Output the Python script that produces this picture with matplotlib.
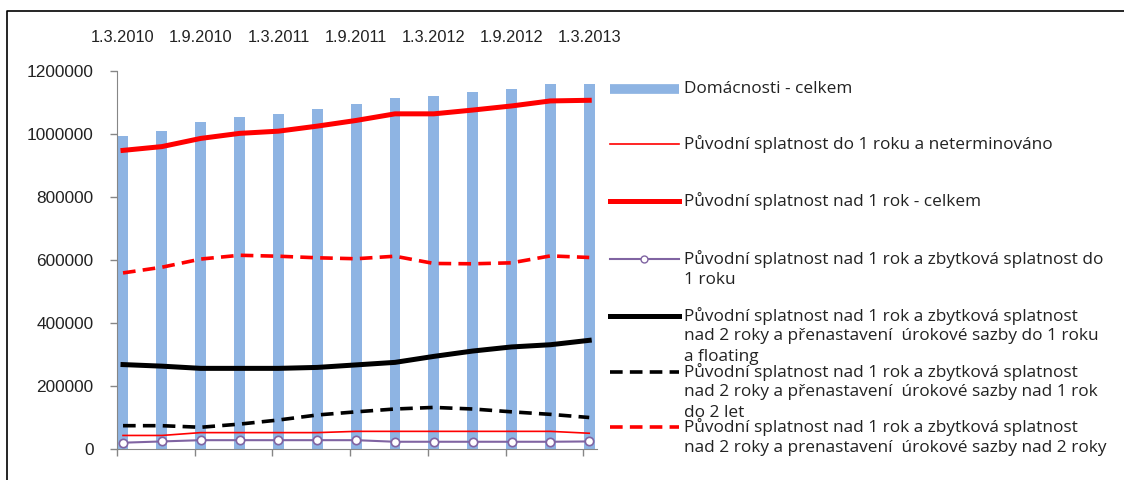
import matplotlib
matplotlib.use('Agg')
import matplotlib.pyplot as plt
from matplotlib.lines import Line2D
import numpy as np

plt.rcParams['font.family'] = ['Liberation Sans', 'DejaVu Sans']

# quarterly observations 1.3.2010 .. 1.3.2013
dates = ['1.3.2010', '1.6.2010', '1.9.2010', '1.12.2010', '1.3.2011', '1.6.2011', '1.9.2011',
         '1.12.2011', '1.3.2012', '1.6.2012', '1.9.2012', '1.12.2012', '1.3.2013']
top_labels = ['1.3.2010', '1.9.2010', '1.3.2011', '1.9.2011', '1.3.2012', '1.9.2012', '1.3.2013']

domacnosti = [993000, 1008000, 1038000, 1054000, 1062000, 1078000, 1095000,
              1115000, 1120000, 1132000, 1144000, 1160000, 1160000]
do_1_roku = [43000, 43000, 52000, 52000, 52000, 52000, 56000,
             56000, 56000, 56000, 56000, 56000, 50000]
nad_1_celkem = [948000, 960000, 986000, 1002000, 1009000, 1025000, 1043000,
                1064000, 1064000, 1076000, 1089000, 1105000, 1107000]
zbyt_do_1 = [20000, 24000, 28000, 28000, 28000, 28000, 28000,
             23000, 23000, 23000, 23000, 23000, 24000]
fix_do_1 = [268000, 263000, 256000, 256000, 256000, 259000, 267000,
            275000, 294000, 311000, 324000, 331000, 345000]
fix_1_2 = [74000, 74000, 69000, 79000, 92000, 108000, 118000,
           127000, 132000, 127000, 118000, 110000, 100000]
fix_nad_2 = [559000, 577000, 603000, 615000, 612000, 607000, 604000,
             612000, 589000, 588000, 591000, 613000, 608000]

labels = [
    ['Domácnosti - celkem'],
    ['Původní splatnost do 1 roku a neterminováno'],
    ['Původní splatnost nad 1 rok - celkem'],
    ['Původní splatnost nad 1 rok a zbytková splatnost do', '1 roku'],
    ['Původní splatnost nad 1 rok a zbytková splatnost',
     'nad 2 roky a přenastavení  úrokové sazby do 1 roku', 'a floating'],
    ['Původní splatnost nad 1 rok a zbytková splatnost',
     'nad 2 roky a přenastavení  úrokové sazby nad 1 rok', 'do 2 let'],
    ['Původní splatnost nad 1 rok a zbytková splatnost',
     'nad 2 roky a prenastavení  úrokové sazby nad 2 roky'],
]

W, H = 1124, 480
fig = plt.figure(figsize=(W / 100, H / 100), dpi=100)
ax = fig.add_axes([117 / W, 1 - 449 / H, (597 - 117) / W, (449 - 71) / H])

x = np.arange(len(dates))
blue = '#8EB4E3'
purple = '#8064A2'
grey = '#868686'
txt = '#222222'

ax.bar(x, domacnosti, width=0.28, color=blue, zorder=1)
ax.plot(x, do_1_roku, color='red', lw=1.2, zorder=3)
ax.plot(x, nad_1_celkem, color='red', lw=3.6, zorder=3)
ax.plot(x, zbyt_do_1, color=purple, lw=1.5, marker='o', ms=6,
        mfc='white', mec=purple, mew=1.2, zorder=4)
ax.plot(x, fix_do_1, color='black', lw=3.6, zorder=3)
ax.plot(x, fix_1_2, color='black', lw=2.6, dashes=(3.5, 2), zorder=3)
ax.plot(x, fix_nad_2, color='red', lw=2.6, dashes=(3.5, 2), zorder=3)

ax.set_xlim(-0.155, 12.2)
ax.set_ylim(0, 1200000)
ax.set_yticks(range(0, 1200001, 200000))
ax.set_yticklabels([str(v) for v in range(0, 1200001, 200000)], fontsize=12.4, color=txt)
ax.set_xticks(np.arange(-0.155, 12.2, 2))
ax.set_xticklabels([])
ax.tick_params(axis='both', colors=grey, length=5, width=1)
ax.tick_params(axis='y', labelcolor=txt, pad=12)
for s in ['top', 'right']:
    ax.spines[s].set_visible(False)
for s in ['left', 'bottom']:
    ax.spines[s].set_color(grey)

# category labels drawn along the top
for i, lab in zip(range(0, len(dates), 2), top_labels):
    ax.annotate(lab, xy=(x[i], 1), xycoords=('data', 'axes fraction'),
                xytext=(0, 33), textcoords='offset pixels',
                ha='center', va='center', fontsize=11.8, color=txt)

# legend drawn by hand, Excel style (entries overlap)
handles = [
    dict(color=blue, lw=7, solid_capstyle='butt'),
    dict(color='red', lw=1.2),
    dict(color='red', lw=3.6),
    dict(color=purple, lw=1.5, marker='o', ms=5, mfc='white', mec=purple, markevery=[1]),
    dict(color='black', lw=3.6),
    dict(color='black', lw=2.6, dashes=(3.5, 2)),
    dict(color='red', lw=2.6, dashes=(3.5, 2)),
]
entry_y = [89, 144, 201, 259, 316, 372, 427]
line_gap = 20.5
for hy, kw, lines in zip(entry_y, handles, labels):
    fig.add_artist(Line2D([610 / W, 644 / W, 679 / W], [1 - hy / H] * 3,
                          transform=fig.transFigure, **kw))
    for j, t in enumerate(lines):
        fig.text(684 / W, 1 - (hy + j * line_gap) / H, t, ha='left', va='center',
                 fontsize=12.4, color=txt, family=['Open Sans', 'DejaVu Sans'])

# outer frame (left and top edges visible)
fig.add_artist(Line2D([7 / W, 7 / W, 1], [0, 1 - 11 / H, 1 - 11 / H],
                      transform=fig.transFigure, color='black', lw=1.2))

fig.savefig('out.png', dpi=100)
